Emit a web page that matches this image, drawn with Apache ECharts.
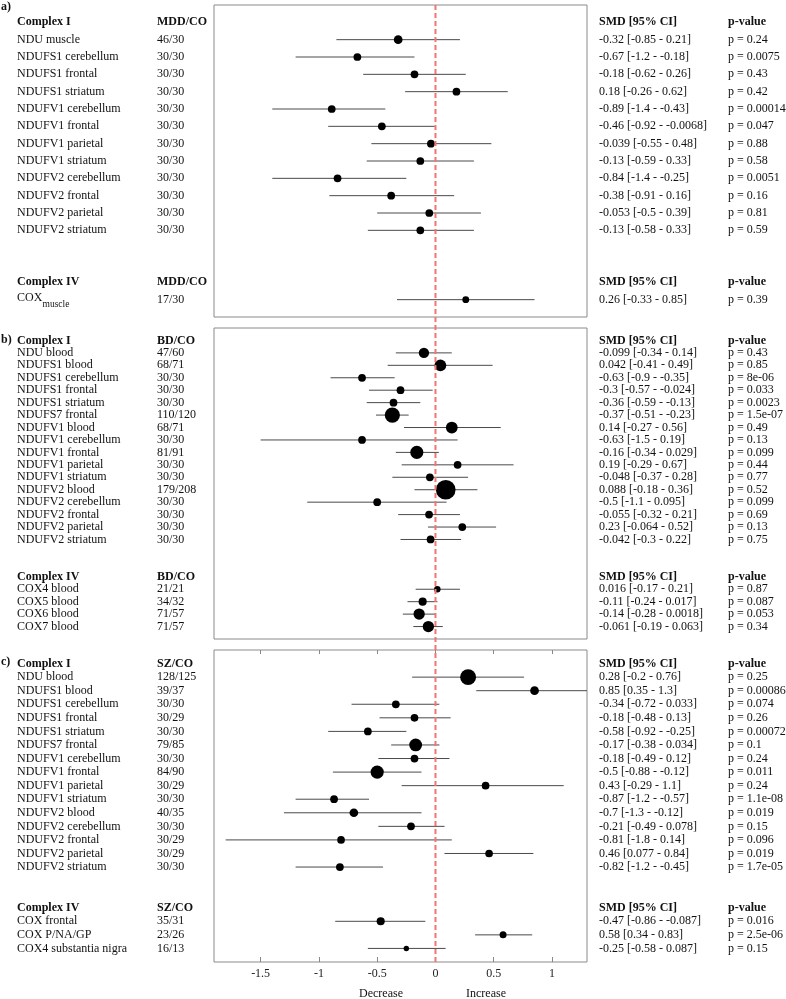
<!DOCTYPE html>
<html><head><meta charset="utf-8">
<script src="https://cdn.jsdelivr.net/npm/echarts@6/dist/echarts.min.js"></script>
<style>html,body{margin:0;padding:0;background:#fff}#c{width:786px;height:999px}</style>
</head><body><div id="c"></div>
<script>
const FONT = '"Liberation Serif","Times New Roman",serif';

// ---------- Panel a) MDD vs CO ----------
const aGroup = "MDD/CO";
const aSplit = 12; // number of Complex I rows
const aNames = ["NDU muscle","NDUFS1 cerebellum","NDUFS1 frontal","NDUFS1 striatum","NDUFV1 cerebellum","NDUFV1 frontal","NDUFV1 parietal","NDUFV1 striatum","NDUFV2 cerebellum","NDUFV2 frontal","NDUFV2 parietal","NDUFV2 striatum","COX_muscle"];
const aN = ["46/30","30/30","30/30","30/30","30/30","30/30","30/30","30/30","30/30","30/30","30/30","30/30","17/30"];
const aSmd = [-0.32,-0.67,-0.18,0.18,-0.89,-0.46,-0.039,-0.13,-0.84,-0.38,-0.053,-0.13,0.26];
const aLo = [-0.85,-1.2,-0.62,-0.26,-1.4,-0.92,-0.55,-0.59,-1.4,-0.91,-0.5,-0.58,-0.33];
const aHi = [0.21,-0.18,0.26,0.62,-0.43,-0.0068,0.48,0.33,-0.25,0.16,0.39,0.33,0.85];
const aP = ["0.24","0.0075","0.43","0.42","0.00014","0.047","0.88","0.58","0.0051","0.16","0.81","0.59","0.39"];

// ---------- Panel b) BD vs CO ----------
const bGroup = "BD/CO";
const bSplit = 16;
const bNames = ["NDU blood","NDUFS1 blood","NDUFS1 cerebellum","NDUFS1 frontal","NDUFS1 striatum","NDUFS7 frontal","NDUFV1 blood","NDUFV1 cerebellum","NDUFV1 frontal","NDUFV1 parietal","NDUFV1 striatum","NDUFV2 blood","NDUFV2 cerebellum","NDUFV2 frontal","NDUFV2 parietal","NDUFV2 striatum","COX4 blood","COX5 blood","COX6 blood","COX7 blood"];
const bN = ["47/60","68/71","30/30","30/30","30/30","110/120","68/71","30/30","81/91","30/30","30/30","179/208","30/30","30/30","30/30","30/30","21/21","34/32","71/57","71/57"];
const bSmd = [-0.099,0.042,-0.63,-0.3,-0.36,-0.37,0.14,-0.63,-0.16,0.19,-0.048,0.088,-0.5,-0.055,0.23,-0.042,0.016,-0.11,-0.14,-0.061];
const bLo = [-0.34,-0.41,-0.9,-0.57,-0.59,-0.51,-0.27,-1.5,-0.34,-0.29,-0.37,-0.18,-1.1,-0.32,-0.064,-0.3,-0.17,-0.24,-0.28,-0.19];
const bHi = [0.14,0.49,-0.35,-0.024,-0.13,-0.23,0.56,0.19,0.029,0.67,0.28,0.36,0.095,0.21,0.52,0.22,0.21,0.017,0.0018,0.063];
const bP = ["0.43","0.85","8e-06","0.033","0.0023","1.5e-07","0.49","0.13","0.099","0.44","0.77","0.52","0.099","0.69","0.13","0.75","0.87","0.087","0.053","0.34"];

// ---------- Panel c) SZ vs CO ----------
const cGroup = "SZ/CO";
const cSplit = 15;
const cNames = ["NDU blood","NDUFS1 blood","NDUFS1 cerebellum","NDUFS1 frontal","NDUFS1 striatum","NDUFS7 frontal","NDUFV1 cerebellum","NDUFV1 frontal","NDUFV1 parietal","NDUFV1 striatum","NDUFV2 blood","NDUFV2 cerebellum","NDUFV2 frontal","NDUFV2 parietal","NDUFV2 striatum","COX frontal","COX P/NA/GP","COX4 substantia nigra"];
const cN = ["128/125","39/37","30/30","30/29","30/30","79/85","30/30","84/90","30/29","30/30","40/35","30/30","30/29","30/29","30/30","35/31","23/26","16/13"];
const cSmd = [0.28,0.85,-0.34,-0.18,-0.58,-0.17,-0.18,-0.5,0.43,-0.87,-0.7,-0.21,-0.81,0.46,-0.82,-0.47,0.58,-0.25];
const cLo = [-0.2,0.35,-0.72,-0.48,-0.92,-0.38,-0.49,-0.88,-0.29,-1.2,-1.3,-0.49,-1.8,0.077,-1.2,-0.86,0.34,-0.58];
const cHi = [0.76,1.3,0.033,0.13,-0.25,0.034,0.12,-0.12,1.1,-0.57,-0.12,0.078,0.14,0.84,-0.45,-0.087,0.83,0.087];
const cP = ["0.25","0.00086","0.074","0.26","0.00072","0.1","0.24","0.011","0.24","1.1e-08","0.019","0.15","0.096","0.019","1.7e-05","0.016","2.5e-06","0.15"];

// axis
const xMin = -1.9, xMax = 1.3;
const xTicks = [-1.5, -1, -0.5, 0, 0.5, 1];
const headerCols = ["SMD [95% CI]", "p-value"];

// column x positions (layout)
const COL = {name: 17, n: 157, smd: 599, p: 728};
const TXT = '#111';

function buildPanel(names, ns, smd, lo, hi, ps, split, group) {
  const rows = [];
  rows.push({row: 0, header: true, cols: ["Complex I", group, headerCols[0], headerCols[1]]});
  const items = [];
  names.forEach((nm, i) => {
    const row = i < split ? i + 1 : i + 4;
    const parts = ns[i].split('/').map(Number);
    items.push({row, smd: smd[i], lo: lo[i], hi: hi[i], size: Math.sqrt(parts[0] + parts[1])});
    rows.push({row, header: false, cols: [nm, ns[i], smd[i] + ' [' + lo[i] + ' - ' + hi[i] + ']', 'p = ' + ps[i]]});
  });
  rows.push({row: split + 3, header: true, cols: ["Complex IV", group, headerCols[0], headerCols[1]]});
  const last = names.length + 3;
  return {rows, items, maxRow: last + 1};
}

const panels = [
  buildPanel(aNames, aN, aSmd, aLo, aHi, aP, aSplit, aGroup),
  buildPanel(bNames, bN, bSmd, bLo, bHi, bP, bSplit, bGroup),
  buildPanel(cNames, cN, cSmd, cLo, cHi, cP, cSplit, cGroup)
];

function txt(x, y, text, bold, size) {
  return {type: 'text', x, y, style: {text, font: (bold ? 'bold ' : '') + (size || 12) + 'px ' + FONT, fill: TXT, align: 'left', verticalAlign: 'middle'}};
}

const grids = [
  {left: 214, width: 373, top: 5, height: 312, show: true},
  {left: 214, width: 373, top: 328, height: 311, show: true},
  {left: 214, width: 373, top: 650, height: 312, show: true},
  {left: 214, width: 373, top: 5, height: 957, show: false}
].map(g => Object.assign({borderColor: '#8a8a8a', borderWidth: 1, backgroundColor: 'transparent', containLabel: false}, g));

const xAxes = [
  {gridIndex: 0, type: 'value', min: xMin, max: xMax, show: false},
  {gridIndex: 1, type: 'value', min: xMin, max: xMax, show: false},
  {gridIndex: 2, type: 'value', min: xMin, max: xMax, position: 'bottom',
    axisLine: {show: false, onZero: false}, splitLine: {show: false},
    axisTick: {show: true, inside: true, length: 5, lineStyle: {color: '#888'}, customValues: xTicks},
    axisLabel: {customValues: xTicks, margin: 6, fontFamily: FONT, fontSize: 12, color: '#222'}},
  {gridIndex: 3, type: 'value', min: xMin, max: xMax, show: false},
  {gridIndex: 2, type: 'value', min: xMin, max: xMax, position: 'top',
    axisLine: {show: false, onZero: false}, splitLine: {show: false},
    axisTick: {show: true, inside: true, length: 4, lineStyle: {color: '#888'}, customValues: xTicks},
    axisLabel: {show: false}}
];

const yAxes = panels.map((p, i) => ({gridIndex: i, type: 'value', inverse: true, min: -1, max: p.maxRow, show: false}));
yAxes.push({gridIndex: 3, type: 'value', min: 0, max: 1, show: false});

const series = [];
panels.forEach((p, i) => {
  // whiskers
  series.push({
    type: 'custom', xAxisIndex: i, yAxisIndex: i, z: 2, silent: true,
    data: p.items.map(it => [it.lo, it.hi, it.row]),
    renderItem: (params, api) => {
      const a = api.coord([api.value(0), api.value(2)]);
      const b = api.coord([api.value(1), api.value(2)]);
      return {type: 'line', shape: {x1: a[0], y1: a[1], x2: b[0], y2: b[1]}, style: {stroke: '#4a4a4a', lineWidth: 1}};
    }
  });
  // point estimates
  series.push({
    type: 'scatter', xAxisIndex: i, yAxisIndex: i, z: 3, silent: true,
    data: p.items.map(it => [it.smd, it.row, it.size]),
    symbol: 'circle', symbolSize: v => v[2],
    itemStyle: {color: '#000', opacity: 1}
  });
  // text table
  series.push({
    type: 'custom', xAxisIndex: i, yAxisIndex: i, z: 4, silent: true, clip: false,
    data: p.rows.map((r, k) => [0, r.row, k]),
    renderItem: (params, api) => {
      const r = p.rows[api.value(2)];
      const y = api.coord([0, api.value(1)])[1];
      const ch = [];
      const name = r.cols[0];
      if (!r.header && name.indexOf('_') >= 0) {
        const [base, sub] = name.split('_');
        ch.push(txt(COL.name, y - 2, base, false, 12));
        ch.push(txt(COL.name + 25.5, y + 5, sub, false, 9.5));
      } else {
        ch.push(txt(COL.name, y, name, r.header));
      }
      ch.push(txt(COL.n, y, r.cols[1], r.header));
      ch.push(txt(COL.smd, y, r.cols[2], r.header));
      ch.push(txt(COL.p, y, r.cols[3], r.header));
      return {type: 'group', children: ch};
    }
  });
});
// zero reference line across all panels
series.push({
  type: 'line', xAxisIndex: 3, yAxisIndex: 3, z: 10, silent: true, symbol: 'none',
  data: [[0, 0], [0, 1]],
  lineStyle: {color: '#f47474', width: 2, type: [5, 3]}
});

const chart = echarts.init(document.getElementById('c'), null, {renderer: 'canvas'});
chart.setOption({
  animation: false,
  backgroundColor: '#fff',
  grid: grids,
  xAxis: xAxes,
  yAxis: yAxes,
  series,
  graphic: [
    {type: 'text', x: 1, y: 7, style: {text: 'a)', font: 'bold 12px ' + FONT, fill: TXT, verticalAlign: 'middle'}},
    {type: 'text', x: 1, y: 340, style: {text: 'b)', font: 'bold 12px ' + FONT, fill: TXT, verticalAlign: 'middle'}},
    {type: 'text', x: 1, y: 662, style: {text: 'c)', font: 'bold 12px ' + FONT, fill: TXT, verticalAlign: 'middle'}},
    {type: 'text', x: 381, y: 994, style: {text: 'Decrease', font: '12px ' + FONT, fill: TXT, align: 'center', verticalAlign: 'middle'}},
    {type: 'text', x: 486, y: 994, style: {text: 'Increase', font: '12px ' + FONT, fill: TXT, align: 'center', verticalAlign: 'middle'}}
  ]
});
</script>
</body></html>
